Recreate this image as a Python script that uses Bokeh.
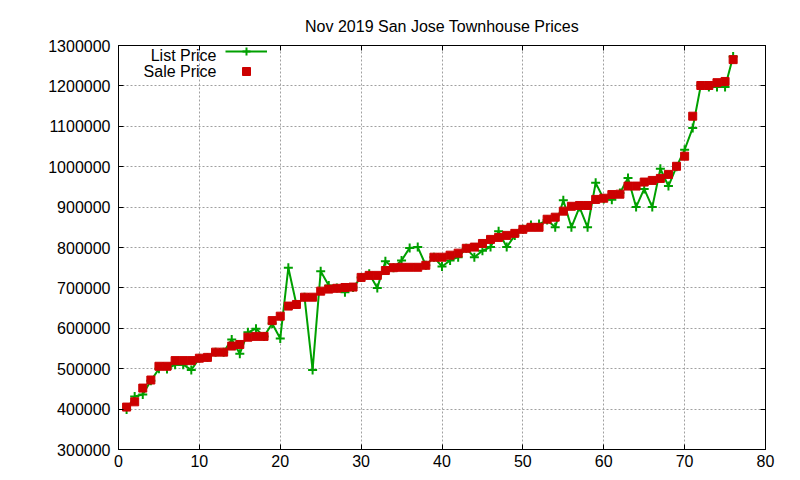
import math
from bokeh.plotting import figure
from bokeh.models import (LinearAxis, Range1d, FixedTicker, BasicTickFormatter,
                          CustomJSTickFormatter, Label, Legend, LegendItem)
from bokeh.embed import file_html
from bokeh.resources import INLINE

# ---- data ----
house_index = list(range(1, 77))

list_price = [
    399000, 431000, 436000, 470000, 500000, 499000, 510000, 510000, 497000, 526000,
    528000, 541000, 541000, 572000, 537000, 590000, 599000, 580000, 612000, 575000,
    750000, 659000, 677000, 497000, 741000, 706000, 700000, 689000, 701000, 726000,
    735000, 700000, 766000, 750000, 768000, 799000, 801000, 756000, 776000, 753000,
    768000, 776000, 798000, 776000, 792000, 801000, 840000, 801000, 830000, 845000,
    856000, 858000, 868000, 850000, 917000, 850000, 900000, 850000, 960000, 920000,
    918000, 935000, 972000, 900000, 945000, 900000, 995000, 952000, 1000000, 1042000,
    1096000, 1201000, 1197000, 1197000, 1197000, 1273000,
]

sale_price = [
    405000, 418000, 452000, 472000, 506000, 506000, 520000, 520000, 520000, 526000,
    528000, 541000, 541000, 556000, 560000, 578000, 580000, 580000, 619000, 630000,
    655000, 659000, 677000, 677000, 692000, 697000, 699000, 701000, 702000, 726000,
    731000, 731000, 743000, 750000, 751000, 751000, 751000, 756000, 776000, 776000,
    781000, 786000, 798000, 801000, 810000, 820000, 825000, 830000, 835000, 845000,
    850000, 850000, 870000, 875000, 890000, 902000, 904000, 904000, 919000, 922000,
    931000, 932000, 952000, 952000, 962000, 966000, 971000, 981000, 1001000, 1026000,
    1125000, 1201000, 1201000, 1208000, 1211000, 1265000,
]

x_ticks = [0, 10, 20, 30, 40, 50, 60, 70, 80]
y_ticks = [300000, 400000, 500000, 600000, 700000, 800000, 900000,
           1000000, 1100000, 1200000, 1300000]

GREEN = "#00a000"
RED = "#cc0000"
FONT = "Liberation Sans"
FS = "16px"

p = figure(width=800, height=480, output_backend="svg", toolbar_location=None,
           x_range=Range1d(0, 80), y_range=Range1d(300000, 1300000),
           min_border_left=118, min_border_right=35, min_border_top=45,
           min_border_bottom=31,
           title="Nov 2019 San Jose Townhouse Prices")

p.title.align = "center"
p.title.text_font = FONT
p.title.text_font_size = FS
p.title.text_font_style = "normal"
p.title.text_color = "black"
p.title.standoff = 22

p.outline_line_color = "black"
p.outline_line_width = 1
p.outline_line_alpha = 1

p.xaxis.ticker = FixedTicker(ticks=x_ticks)
p.yaxis.ticker = FixedTicker(ticks=y_ticks)
p.yaxis.formatter = BasicTickFormatter(use_scientific=False)

for ax in (p.xaxis[0], p.yaxis[0]):
    ax.major_tick_in = 5
    ax.major_tick_out = 0
    ax.minor_tick_line_color = None
    ax.axis_line_color = "black"
    ax.major_tick_line_color = "black"
    ax.major_label_text_font = FONT
    ax.major_label_text_font_size = FS
    ax.major_label_text_color = "black"
p.xaxis.major_label_standoff = 5
p.yaxis.major_label_standoff = 8

blank = CustomJSTickFormatter(code="return ''")
r_ax = LinearAxis(ticker=FixedTicker(ticks=y_ticks), formatter=blank,
                  major_tick_in=5, major_tick_out=0, minor_tick_line_color=None,
                  major_label_standoff=0, major_label_text_font_size="1px",
                  axis_line_color="black")
p.add_layout(r_ax, "right")
t_ax = LinearAxis(ticker=FixedTicker(ticks=x_ticks), formatter=blank,
                  major_tick_in=5, major_tick_out=0, minor_tick_line_color=None,
                  major_label_standoff=0, major_label_text_font_size="1px",
                  axis_line_color="black")
p.add_layout(t_ax, "above")

for g in (p.xgrid[0], p.ygrid[0]):
    g.grid_line_color = "#a0a0a0"
    g.grid_line_dash = "2 2"
    g.grid_line_width = 1

line_r = p.line(house_index, list_price, line_color=GREEN, line_width=2)
cross_r = p.scatter(house_index, list_price, marker="cross", size=9,
                    line_color=GREEN, line_width=2)
sq_r = p.scatter(house_index, sale_price, marker="square", size=8,
                 fill_color=RED, line_color=RED)

legend = Legend(items=[LegendItem(label=" ", renderers=[line_r, cross_r]),
                       LegendItem(label=" ", renderers=[sq_r])],
                location=(107, 368), margin=0, padding=0, spacing=-6,
                glyph_width=42, glyph_height=20, label_height=20, label_width=1,
                label_standoff=0, label_text_font_size="1px",
                border_line_color=None, background_fill_alpha=0)
p.add_layout(legend)

p.add_layout(Label(x=98, y=394, x_units="screen", y_units="screen", text="List Price",
                   text_align="right", text_baseline="middle", text_font=FONT,
                   text_font_size=FS, text_color="black"))
p.add_layout(Label(x=98, y=378, x_units="screen", y_units="screen", text="Sale Price",
                   text_align="right", text_baseline="middle", text_font=FONT,
                   text_font_size=FS, text_color="black"))
p.add_layout(Label(x=-106, y=207, x_units="screen", y_units="screen", text="Price",
                   angle=math.pi / 2, text_align="center", text_baseline="middle",
                   text_font=FONT, text_font_size=FS, text_color="black"))

open("out.html", "w").write(file_html(p, INLINE))
